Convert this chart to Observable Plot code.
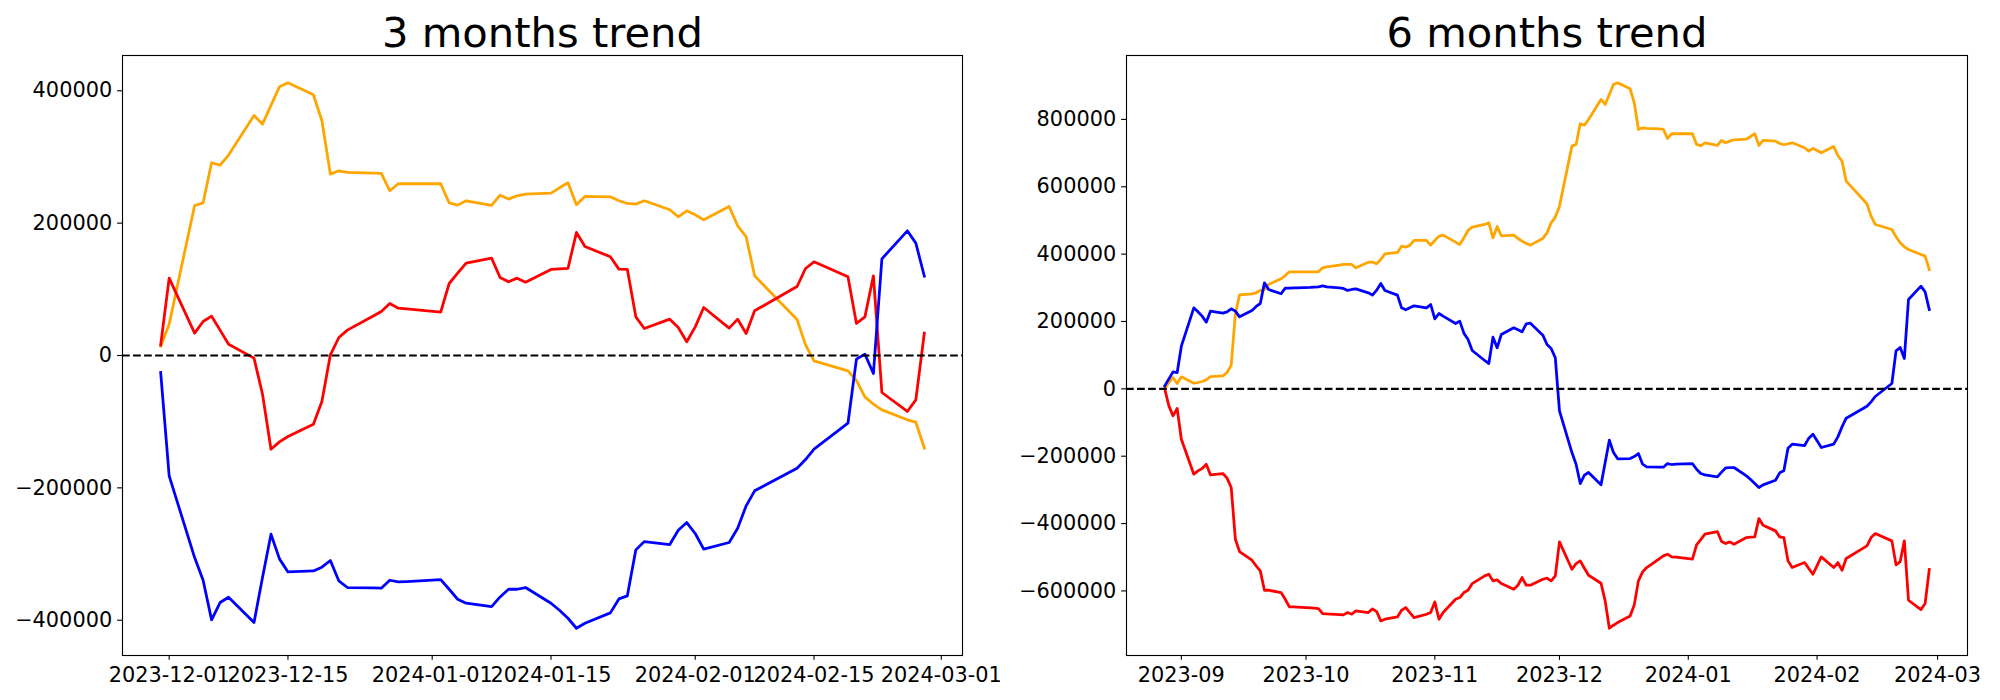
<!DOCTYPE html>
<html>
<head>
<meta charset="utf-8">
<script src="https://cdn.jsdelivr.net/npm/d3@7"></script>
<script src="https://cdn.jsdelivr.net/npm/@observablehq/plot@0.6"></script>
<style>
  html, body { margin: 0; padding: 0; background: white; }
  #fig { position: relative; width: 2000px; height: 700px; background: white; }
  #left, #right { position: absolute; top: 0; }
  #left { left: 0; }
  #right { left: 1000px; }
</style>
</head>
<body>
<div id="fig"><div id="left"></div><div id="right"></div></div>
<script>
// ---------- 3 months trend ----------
const title3 = "3 months trend";
const dates3 = [
  "2023-11-30","2023-12-01","2023-12-04","2023-12-05","2023-12-06","2023-12-07","2023-12-08",
  "2023-12-11","2023-12-12","2023-12-13","2023-12-14","2023-12-15","2023-12-18","2023-12-19",
  "2023-12-20","2023-12-21","2023-12-22","2023-12-25","2023-12-26","2023-12-27","2023-12-28",
  "2023-12-29","2024-01-02","2024-01-03","2024-01-04","2024-01-05","2024-01-08","2024-01-09",
  "2024-01-10","2024-01-11","2024-01-12","2024-01-15","2024-01-16","2024-01-17","2024-01-18",
  "2024-01-19","2024-01-22","2024-01-23","2024-01-24","2024-01-25","2024-01-26","2024-01-29",
  "2024-01-30","2024-01-31","2024-02-01","2024-02-02","2024-02-05","2024-02-06","2024-02-07",
  "2024-02-08","2024-02-13","2024-02-14","2024-02-15","2024-02-19","2024-02-20","2024-02-21",
  "2024-02-22","2024-02-23","2024-02-26","2024-02-27","2024-02-28"
];
const orange3 = [
  14100, 47400, 226700, 230700, 291200, 287700, 302800,
  362700, 349600, 377900, 406000, 412100, 394000, 354700,
  274100, 279100, 276600, 275600, 275100, 248900, 259500,
  259500, 259500, 230700, 227200, 233800, 226700, 242300,
  236300, 241300, 243800, 245300, 253400, 261000, 227700,
  240300, 239800, 233800, 229700, 228700, 233800, 220200,
  209600, 218700, 212600, 205000, 225200, 196000, 179400,
  120400, 54400, 16100, -8100, -23200, -37800, -62500,
  -73600, -82100, -97200, -100800, -140100
];
const red3 = [
  16000, 116900, 33800, 51400, 59400, 38300, 17100,
  -4000, -58400, -141600, -130500, -122400, -103800, -69500,
  1000, 27200, 38300, 59400, 66500, 78600, 71500,
  70500, 65500, 108800, 124400, 139600, 147100, 117900,
  111300, 116900, 110800, 130000, 131000, 131500, 185900,
  164700, 149100, 130500, 130000, 58400, 40800, 54900,
  42300, 20700, 43300, 72500, 41300, 54900, 33300,
  67500, 104300, 131500, 141600, 118900, 48400, 58400,
  120400, -55900, -84600, -67000, 33800
];
const blue3 = [
  -25700, -181900, -305300, -339600, -399500, -373300, -365300,
  -403500, -335500, -270000, -307300, -327000, -325500, -319900,
  -309800, -340600, -350600, -351100, -351600, -339600, -342100,
  -341600, -338600, -353200, -368300, -374300, -379400, -364800,
  -353200, -353200, -350600, -374300, -384900, -397000, -412100,
  -404500, -388900, -367800, -363200, -293700, -281100, -285700,
  -264000, -252400, -269000, -292700, -282600, -261000, -227200,
  -204500, -170300, -157200, -141600, -102300, -5500, 2000,
  -27200, 146100, 188400, 169800, 119900
];
const xTicks3 = ["2023-12-01","2023-12-15","2024-01-01","2024-01-15","2024-02-01","2024-02-15","2024-03-01"];
const yTicks3 = [-400000, -200000, 0, 200000, 400000];

// ---------- 6 months trend ----------
const title6 = "6 months trend";
const dates6 = [
  "2023-08-28","2023-08-29","2023-08-30","2023-08-31","2023-09-01",
  "2023-09-04","2023-09-05","2023-09-06","2023-09-07","2023-09-08",
  "2023-09-11","2023-09-12","2023-09-13","2023-09-14","2023-09-15",
  "2023-09-18","2023-09-19","2023-09-20","2023-09-21","2023-09-22",
  "2023-09-25","2023-09-26","2023-09-27","2023-09-28","2023-09-29",
  "2023-10-02","2023-10-03","2023-10-04","2023-10-05","2023-10-06",
  "2023-10-09","2023-10-10","2023-10-11","2023-10-12","2023-10-13",
  "2023-10-16","2023-10-17","2023-10-18","2023-10-19","2023-10-20",
  "2023-10-23","2023-10-24","2023-10-25","2023-10-26","2023-10-27",
  "2023-10-30","2023-10-31","2023-11-01","2023-11-02","2023-11-03",
  "2023-11-06","2023-11-07","2023-11-08","2023-11-09","2023-11-10",
  "2023-11-13","2023-11-14","2023-11-15","2023-11-16","2023-11-17",
  "2023-11-20","2023-11-21","2023-11-22","2023-11-23","2023-11-24",
  "2023-11-27","2023-11-28","2023-11-29","2023-11-30","2023-12-01",
  "2023-12-04","2023-12-05","2023-12-06","2023-12-07","2023-12-08",
  "2023-12-11","2023-12-12","2023-12-13","2023-12-14","2023-12-15",
  "2023-12-18","2023-12-19","2023-12-20","2023-12-21","2023-12-22",
  "2023-12-25","2023-12-26","2023-12-27","2023-12-28","2023-12-29",
  "2024-01-02","2024-01-03","2024-01-04","2024-01-05",
  "2024-01-08","2024-01-09","2024-01-10","2024-01-11","2024-01-12",
  "2024-01-15","2024-01-16","2024-01-17","2024-01-18","2024-01-19",
  "2024-01-22","2024-01-23","2024-01-24","2024-01-25","2024-01-26",
  "2024-01-29","2024-01-30","2024-01-31","2024-02-01","2024-02-02",
  "2024-02-05","2024-02-06","2024-02-07","2024-02-08",
  "2024-02-13","2024-02-14","2024-02-15",
  "2024-02-19","2024-02-20","2024-02-21","2024-02-22","2024-02-23",
  "2024-02-26","2024-02-27","2024-02-28"
];
const orange6 = [
  0, 18800, 33700, 15800, 35600,
  16800, 18800, 21800, 26700, 36600,
  38600, 48500, 70300, 222000, 279000,
  282200, 285100, 292100, 295000, 309900,
  326700, 336600, 347500, 347500, 347500,
  347500, 347500, 347500, 359400, 362300,
  367300, 369300, 369300, 369300, 359400,
  376200, 376200, 371300, 384100, 401000,
  404900, 423700, 420800, 426700, 440600,
  440600, 426700, 440600, 453400, 456400,
  435600, 428700, 448500, 470300, 480200,
  488100, 493000, 448500, 482100, 454400,
  456400, 446500, 438600, 431600, 426700,
  446500, 463300, 493000, 509900, 542500,
  720700, 725700, 787100, 783100, 799900,
  859300, 844500, 874200, 903900, 908800,
  891000, 849400, 770200, 775200, 773200,
  772200, 770200, 743500, 757400, 757400,
  757400, 725700, 721700, 730600,
  722700, 737600, 730600, 735600, 739500,
  741500, 749400, 757400, 722700, 737600,
  735600, 728600, 724700, 727700, 730600,
  715800, 705900, 713800, 707900, 700900,
  719700, 693000, 676200, 616800,
  549500, 512800, 488100,
  473200, 451400, 433600, 421700, 413800,
  399000, 394000, 354400
];
const red6 = [
  0, -50500, -80200, -58400, -149500,
  -253400, -243500, -236600, -223700, -255400,
  -251500, -265300, -293000, -446500, -483100,
  -508900, -525700, -540500, -598000, -598000,
  -604900, -624700, -647500, -647500, -648400,
  -650400, -651400, -652400, -667300, -668300,
  -670200, -671200, -664300, -669200, -659300,
  -664300, -653400, -661300, -689000, -684100,
  -677200, -657400, -649400, -664300, -679100,
  -669200, -664300, -632600, -684100, -664300,
  -624700, -619700, -604900, -598000, -578200,
  -555400, -550400, -570200, -567300, -578200,
  -595000, -583100, -560300, -583100, -583100,
  -565300, -562300, -570200, -555400, -454400,
  -535600, -518800, -510800, -532600, -553400,
  -577200, -629600, -710800, -701900, -694000,
  -674200, -641500, -570200, -543500, -530600,
  -504900, -496000, -491000, -498900, -499900,
  -505900, -463300, -447500, -431600,
  -423700, -453400, -459400, -454400, -461300,
  -441500, -440600, -439600, -385100, -404900,
  -421700, -439600, -441500, -510800, -530600,
  -515800, -533600, -550400, -524700, -499000,
  -530600, -515800, -538600, -503900,
  -466300, -441500, -429700,
  -451400, -522700, -512800, -451400, -627700,
  -655400, -637600, -536600
];
const blue6 = [
  8900, 29700, 50500, 48500, 126700,
  240600, 228700, 215800, 198000, 230700,
  224700, 228700, 237600, 230700, 213800,
  232700, 244500, 253400, 314800, 295000,
  282200, 299000, 299000, 300000, 300000,
  301000, 302000, 302900, 305900, 302900,
  300000, 298000, 292100, 295000, 297000,
  285100, 278200, 293000, 312800, 292100,
  278200, 240600, 234600, 240600, 246500,
  240600, 250500, 207900, 223700, 215800,
  194000, 201000, 165300, 146500, 113900,
  84200, 75200, 153500, 121800, 161400,
  181200, 175200, 169300, 193100, 195000,
  159400, 131700, 119800, 92100, -65300,
  -189100, -223700, -281200, -256400, -248500,
  -285100, -218800, -152500, -189100, -207900,
  -206900, -201000, -192100, -223700, -231700,
  -232700, -232700, -221800, -224700, -223700,
  -221800, -238600, -251500, -255400,
  -261400, -247500, -234600, -233600, -233600,
  -258400, -269300, -281200, -293000, -285100,
  -271300, -249500, -243500, -176200, -164300,
  -168300, -146500, -134600, -154400, -174200,
  -164300, -142600, -112900, -87100,
  -51500, -38600, -22800,
  15800, 112900, 122800, 90100, 265300,
  304900, 288100, 235600
];
const xTicks6 = ["2023-09-01","2023-10-01","2023-11-01","2023-12-01","2024-01-01","2024-02-01","2024-03-01"];
const yTicks6 = [-600000, -400000, -200000, 0, 200000, 400000, 600000, 800000];

const seriesColors = ["orange", "red", "blue"];

// ---------- drawing ----------
const parse = d3.utcParse("%Y-%m-%d");
const DPI = 100 / 72;

function padded(lo, hi) {
  const m = (hi - lo) * 0.05;
  return [lo - m, hi + m];
}

function chart({title, dates, series, xTicks, xFormat, yTicks, marginLeft, marginRight}) {
  const xs = dates.map(parse);
  const xExt = d3.extent(xs);
  const xDom = padded(+xExt[0], +xExt[1]).map(t => new Date(t));
  const all = series.flat();
  const yDom = padded(d3.min(all), d3.max(all));
  const marks = [];
  series.forEach((vals, k) => {
    marks.push(Plot.line(vals, {
      x: xs, y: d => d, stroke: seriesColors[k],
      strokeWidth: 2 * DPI, strokeLinejoin: "round", strokeLinecap: "square"
    }));
  });
  marks.push(Plot.ruleY([0], {stroke: "black", strokeWidth: 1.5 * DPI, strokeDasharray: `${5.55 * DPI},${2.4 * DPI}`}));
  marks.push(Plot.axisX({
    ticks: xTicks.map(parse), tickFormat: d3.utcFormat(xFormat), tickSize: 3.5 * DPI,
    tickPadding: 6.8, fontSize: 15 * DPI, label: null, strokeWidth: 0.8 * DPI
  }));
  marks.push(Plot.axisY({
    ticks: yTicks, tickFormat: d3.format("d"), tickSize: 3.5 * DPI,
    tickPadding: 5.5, fontSize: 15 * DPI, label: null, strokeWidth: 0.8 * DPI
  }));
  marks.push(Plot.frame({stroke: "black", strokeWidth: 0.8 * DPI}));
  marks.push(Plot.text([title], {
    frameAnchor: "top", dy: -6 * DPI, lineAnchor: "bottom",
    fontSize: 30 * DPI, fill: "black"
  }));
  return Plot.plot({
    width: 1000, height: 700,
    marginLeft, marginRight, marginTop: 55, marginBottom: 45,
    x: {type: "utc", domain: xDom},
    y: {domain: yDom},
    style: {background: "white", fontFamily: "'DejaVu Sans', sans-serif", overflow: "visible"},
    marks
  });
}

document.getElementById("left").appendChild(chart({
  title: title3, dates: dates3, series: [orange3, red3, blue3],
  xTicks: xTicks3, xFormat: "%Y-%m-%d", yTicks: yTicks3,
  marginLeft: 122, marginRight: 38
}));
document.getElementById("right").appendChild(chart({
  title: title6, dates: dates6, series: [orange6, red6, blue6],
  xTicks: xTicks6, xFormat: "%Y-%m", yTicks: yTicks6,
  marginLeft: 126, marginRight: 33
}));
</script>
</body>
</html>
